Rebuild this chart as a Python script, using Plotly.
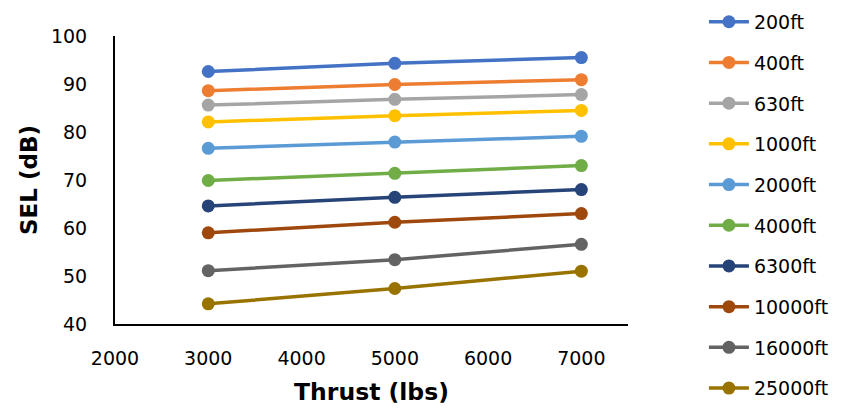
import plotly.graph_objects as go

thrust = [3000, 5000, 7000]
names = ["200ft", "400ft", "630ft", "1000ft", "2000ft", "4000ft", "6300ft", "10000ft", "16000ft", "25000ft"]
sel_200 = [92.6, 94.3, 95.5]
sel_400 = [88.6, 89.9, 90.9]
sel_630 = [85.6, 86.8, 87.8]
sel_1000 = [82.1, 83.4, 84.5]
sel_2000 = [76.6, 77.9, 79.1]
sel_4000 = [69.9, 71.4, 73.0]
sel_6300 = [64.6, 66.4, 68.0]
sel_10000 = [59.0, 61.2, 63.0]
sel_16000 = [51.1, 53.4, 56.6]
sel_25000 = [44.2, 47.4, 51.0]
series = [sel_200, sel_400, sel_630, sel_1000, sel_2000, sel_4000, sel_6300, sel_10000, sel_16000, sel_25000]
colors = ["#4472C4", "#ED7D31", "#A5A5A5", "#FFC000", "#5B9BD5", "#70AD47", "#264478", "#9E480E", "#636363", "#997300"]

FONT = "DejaVu Sans"
fig = go.Figure()
for n, s, c in zip(names, series, colors):
    fig.add_trace(go.Scatter(x=thrust, y=s, name=n, mode="lines+markers", legendgroup=n,
                             line=dict(color=c, width=3.5), marker=dict(color=c, size=13)))

fig.update_layout(
    width=850, height=410,
    margin=dict(l=115, r=222, t=36, b=86, autoexpand=False),
    plot_bgcolor="white", paper_bgcolor="white",
    font=dict(family=FONT, size=19, color="black"),
    xaxis=dict(range=[2000, 7500], tickvals=[2000, 3000, 4000, 5000, 6000, 7000],
               showgrid=False, zeroline=False, showline=True, linecolor="black", linewidth=2,
               ticks="", ticklabelstandoff=16,
               title=dict(text="<b>Thrust (lbs)</b>", font=dict(size=23.5), standoff=16)),
    yaxis=dict(range=[40, 100], tickvals=[40, 50, 60, 70, 80, 90, 100],
               showgrid=False, zeroline=False, showline=True, linecolor="black", linewidth=2,
               ticks="", ticklabelstandoff=22,
               title=dict(text="<b>SEL (dB)</b>", font=dict(size=23), standoff=7)),
    legend=dict(x=1.148, y=1.115, xanchor="left", yanchor="top", traceorder="grouped",
                tracegroupgap=13, font=dict(size=19), maxheight=1.0, itemwidth=40),
)
fig.write_html("out.html")
